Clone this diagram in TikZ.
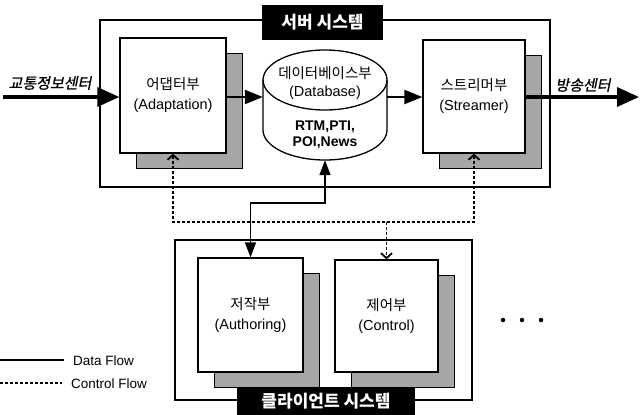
\documentclass[tikz,border=0pt]{standalone}
\usepackage{fontspec}
\setmainfont{Liberation Sans}
\newfontfamily\kr{Noto Sans CJK KR}
\newfontfamily\krit[FakeSlant=0.2,FakeBold=1]{Noto Sans CJK KR}
\usetikzlibrary{arrows.meta,shadows}
\begin{document}
\begin{tikzpicture}[x=1pt,y=-1pt,
  frame/.style={draw,line width=1.3pt,inner sep=0pt},
  box/.style={draw,line width=1.3pt,fill=white,inner sep=0pt,align=center,
    font=\fontsize{14.5}{20}\selectfont,
    drop shadow={shadow xshift=16pt,shadow yshift=-15pt,opacity=1,fill=black!35,draw=black,line width=0.8pt}},
  titlebox/.style={fill=black,text=white,inner sep=0pt,font=\kr\bfseries\fontsize{17}{17}\selectfont},
  extlabel/.style={font=\krit\fontsize{15}{15}\selectfont,inner sep=0pt},
  bigarrow/.style={line width=3.5pt,-{Triangle[length=22pt,width=19pt]}},
  midarrow/.style={line width=2.2pt,-{Triangle[length=18pt,width=14pt]}},
  dataflow/.style={line width=1.6pt,{Triangle[length=15pt,width=11pt]}-{Triangle[length=15pt,width=11pt]}},
  ctrl/.style={line width=1.8pt,dash pattern=on 3pt off 2pt},
  barb/.tip={Straight Barb[length=5pt,width=11pt,line width=1.8pt]},
  legend/.style={anchor=west,inner sep=0pt,font=\fontsize{13.5}{13.5}\selectfont},
  dot/.style={circle,fill=black,inner sep=0pt,minimum size=4.5pt}
]
\useasboundingbox (0,0) rectangle (640,415);

% server system
\node[frame,minimum width=450pt,minimum height=167pt] (server) at (325,103.5) {};
\node[titlebox,minimum width=121pt,minimum height=35pt] (servertitle) at (322.5,22.5) {서버 시스템};

\node[box,minimum width=106pt,minimum height=115pt] (adapt) at (173,95.5) {{\kr 어댑터부}\\(Adaptation)};
\node[box,minimum width=102pt,minimum height=113pt] (streamer) at (474,96.5) {{\kr 스트리머부}\\(Streamer)};

% database cylinder
\node[minimum width=124pt,minimum height=110pt,inner sep=0pt] (db) at (325,105) {};
\draw[line width=1.3pt,fill=white] (263,80) -- (263,130)
  arc[start angle=180,end angle=360,x radius=62pt,y radius=30pt] -- (387,80)
  arc[start angle=0,end angle=180,x radius=62pt,y radius=30pt] -- cycle;
\draw[line width=1.3pt] (263,80) arc[start angle=180,end angle=360,x radius=62pt,y radius=30pt];
\node[inner sep=0pt,font=\kr\fontsize{14.5}{14.5}\selectfont] (dbk) at (325,73) {데이터베이스부};
\node[inner sep=0pt,font=\fontsize{14.5}{14.5}\selectfont] (dbe) at (325,93) {(Database)};
\node[inner sep=0pt,align=center,font=\bfseries\fontsize{14}{16}\selectfont] (dbc) at (325,135) {RTM,PTI,\\POI,News};

% external flows
\coordinate (src) at (3,97);
\coordinate (dst) at (639,97);
\draw[bigarrow] (src) -- (src -| adapt.west);
\draw[midarrow] (adapt.east |- src) -- (db.west |- src);
\draw[midarrow] (db.east |- src) -- (streamer.west |- src);
\draw[bigarrow] (streamer.east |- src) -- (dst);
\node[extlabel] (srclab) at (50,83) {교통정보센터};
\node[extlabel] (dstlab) at (583,85) {방송센터};

% client system
\node[frame,minimum width=297pt,minimum height=160pt] (client) at (323.5,320) {};
\node[box,minimum width=105pt,minimum height=114pt] (author) at (250.5,315) {{\kr 저작부}\\(Authoring)};
\node[box,minimum width=103pt,minimum height=112pt] (control) at (386.5,316) {{\kr 제어부}\\(Control)};
\node[titlebox,minimum width=178pt,minimum height=28pt] (clienttitle) at (326,401) {클라이언트 시스템};

% data flow db <-> authoring
\draw[dataflow] (db.south) -- ++(0,43) -| (author.north);

% control flow
\coordinate (cy) at (0,222);
\draw[ctrl,barb-barb] (adapt.south) -- (adapt.south |- cy) -- (streamer.south |- cy) -- (streamer.south);
\draw[ctrl,-barb] (control.north |- cy) -- (control.north);

% dots
\node[dot] (d1) at (503,320) {};
\node[dot] (d2) at (522,320) {};
\node[dot] (d3) at (541,320) {};

% legend
\coordinate (la1) at (0,360);
\coordinate (la2) at (64,360);
\coordinate (lb1) at (0,383);
\coordinate (lb2) at (62,383);
\draw[line width=1.5pt] (la1) -- (la2);
\draw[ctrl] (lb1) -- (lb2);
\node[legend] (lta) at (73,361) {Data Flow};
\node[legend] (ltb) at (71,384) {Control Flow};
\end{tikzpicture}
\end{document}
